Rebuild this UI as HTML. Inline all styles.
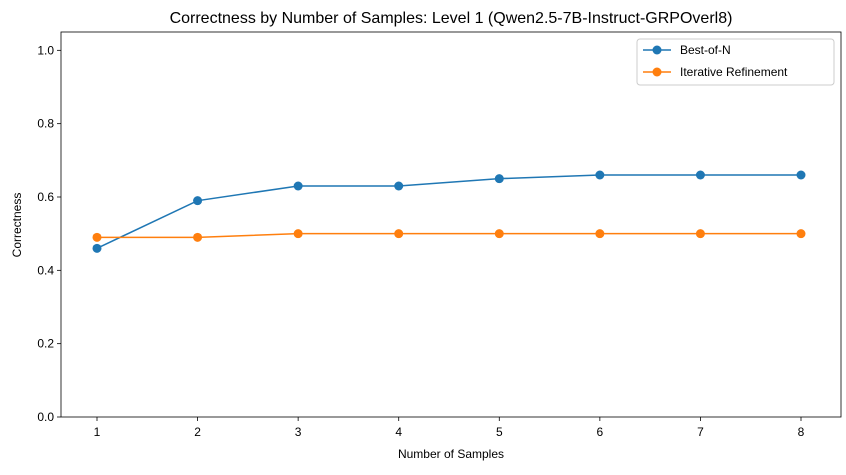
<!DOCTYPE html>
<html><head><meta charset="utf-8"><style>
body{margin:0;background:#fff;}
svg text{font-family:"Liberation Sans","DejaVu Sans",sans-serif;fill:#000;}
</style></head><body>
<svg id="chart" width="846" height="470" xmlns="http://www.w3.org/2000/svg"></svg>
<script>
const categories=[1,2,3,4,5,6,7,8];
const bestOfN=[0.46,0.59,0.63,0.63,0.65,0.66,0.66,0.66];
const iterative=[0.49,0.49,0.50,0.50,0.50,0.50,0.50,0.50];
const yTicks=[0.0,0.2,0.4,0.6,0.8,1.0];
const yTickLabels=["0.0","0.2","0.4","0.6","0.8","1.0"];
const seriesNames=["Best-of-N","Iterative Refinement"];

const L=61,R=841,T=32,B=417;
const x=v=>97+(v-1)*(801-97)/7;
const y=v=>B-(v/1.05)*(B-T);
const svg=document.getElementById('chart');
const NS='http://www.w3.org/2000/svg';
function mk(tag,attrs,parent){const e=document.createElementNS(NS,tag);for(const k in attrs)e.setAttribute(k,attrs[k]);(parent||svg).appendChild(e);return e;}

let t=mk('text',{x:451,y:23,'text-anchor':'middle','font-size':16});t.textContent='Correctness by Number of Samples: Level 1 (Qwen2.5-7B-Instruct-GRPOverl8)';



categories.forEach(c=>{
  const g=mk('g',{});
  
  
  mk('line',{x1:x(c),x2:x(c),y1:B,y2:B+4,stroke:'#000','stroke-width':0.8},g);
  const tt=mk('text',{x:x(c),y:B+19,'text-anchor':'middle','font-size':12},g);tt.textContent=c;
});
yTicks.forEach((v,i)=>{
  const g=mk('g',{});
  
  
  mk('line',{x1:L-4,x2:L,y1:y(v),y2:y(v),stroke:'#000','stroke-width':0.8},g);
  const tt=mk('text',{x:L-7,y:y(v)+4,'text-anchor':'end','font-size':12},g);tt.textContent=yTickLabels[i];
});
t=mk('text',{x:451,y:458,'text-anchor':'middle','font-size':12});t.textContent='Number of Samples';


t=mk('text',{x:21,y:225,'text-anchor':'middle','font-size':12,transform:'rotate(-90 21 225)'});t.textContent='Correctness';



const colors=['#1f77b4','#ff7f0e'];
[bestOfN,iterative].forEach((s,si)=>{
  const g=mk('g',{});
  
  
  mk('polyline',{points:s.map((v,i)=>x(categories[i])+','+y(v)).join(' '),fill:'none',stroke:colors[si],'stroke-width':1.5},g);
  s.forEach((v,i)=>{
    const c=mk('circle',{cx:x(categories[i]),cy:y(v),r:4.5,fill:colors[si]},g);
    
    
  });
});
const frame=mk('rect',{x:L,y:T,width:R-L,height:B-T,fill:'none',stroke:'#000','stroke-width':0.8});



const lg=mk('g',{});


mk('rect',{x:637,y:39,width:197,height:46,rx:3,fill:'#fff',stroke:'#ccc','stroke-width':1},lg);
seriesNames.forEach((n,i)=>{
  const yy=50+i*22;
  const e=mk('g',{},lg);
  
  
  mk('line',{x1:643,x2:671,y1:yy,y2:yy,stroke:colors[i],'stroke-width':1.5},e);
  mk('circle',{cx:657,cy:yy,r:4.5,fill:colors[i]},e);
  const tt=mk('text',{x:680,y:yy+4,'font-size':12},e);tt.textContent=n;
});
</script>
</body></html>
